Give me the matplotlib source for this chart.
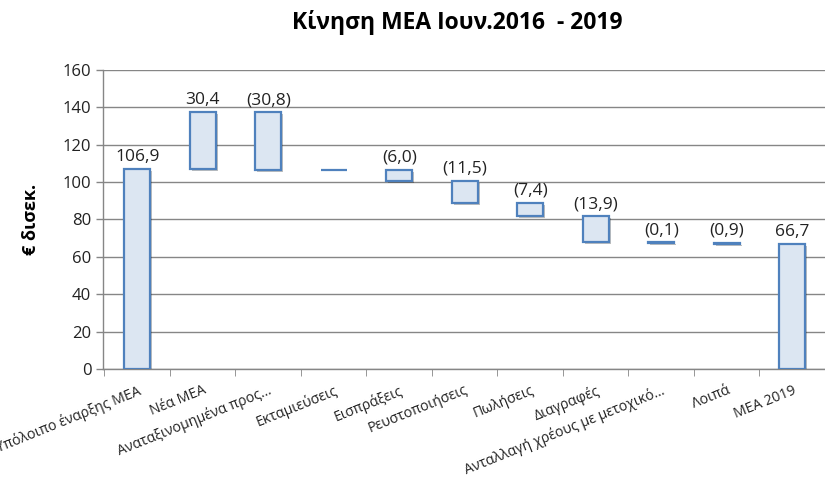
import matplotlib
matplotlib.use("Agg")
import matplotlib.pyplot as plt
import matplotlib.patheffects as pe
import numpy as np

plt.rcParams['font.family'] = ['Open Sans', 'Noto Sans', 'DejaVu Sans']

title = "Κίνηση ΜΕΑ Ιουν.2016  - 2019"
ylabel = "€ δισεκ."
categories = ["Υπόλοιπο έναρξης ΜΕΑ", "Νέα ΜΕΑ", "Αναταξινομημένα προς…",
              "Εκταμιεύσεις", "Εισπράξεις", "Ρευστοποιήσεις", "Πωλήσεις",
              "Διαγραφές", "Ανταλλαγή χρέους με μετοχικό…", "Λοιπά", "ΜΕΑ 2019"]
# change per step (first and last are totals)
changes = [106.9, 30.4, -30.8, 0.0, -6.0, -11.5, -7.4, -13.9, -0.1, -0.9, 66.7]
is_total = [True, False, False, False, False, False, False, False, False, False, True]
labels = ["106,9", "30,4", "(30,8)", "", "(6,0)", "(11,5)", "(7,4)",
          "(13,9)", "(0,1)", "(0,9)", "66,7"]
yticks = [0, 20, 40, 60, 80, 100, 120, 140, 160]

fig = plt.figure(figsize=(8.25, 4.88), dpi=100)
ax = fig.add_axes([0.125, 0.244, 0.875, 0.613])

bottoms, heights = [], []
running = 0.0
for v, tot in zip(changes, is_total):
    if tot:
        bottoms.append(0.0)
        heights.append(v)
        running = v
    else:
        new = running + v
        bottoms.append(min(running, new))
        heights.append(abs(v))
        running = new

x = np.arange(len(categories))
bars = ax.bar(x, heights, bottom=bottoms, width=0.4, color='#dce6f2',
              edgecolor='#4f81bd', linewidth=1.6, zorder=3)
for b in bars:
    b.set_path_effects([pe.SimplePatchShadow(offset=(1.5, -1.5), shadow_rgbFace='#000000', alpha=0.25),
                        pe.Normal()])

for xi, b0, h, lab in zip(x, bottoms, heights, labels):
    if lab:
        ax.annotate(lab, (xi, b0 + h), xytext=(0, 3), textcoords='offset points',
                    ha='center', va='bottom', fontsize=12.5, color='#222222', zorder=4)

ax.set_xlim(-0.52, len(categories) - 0.5)
ax.set_ylim(0, 160)
ax.set_yticks(yticks)
ax.set_yticklabels([str(t) for t in yticks], fontsize=12, color='#222222')
ax.yaxis.grid(True, color='#868686', linewidth=1.0, zorder=0)
ax.set_axisbelow(True)

ax.set_xticks(x)
ax.set_xticklabels(categories, rotation=22, ha='right', rotation_mode='anchor',
                   fontsize=10.2, color='#222222')
ax.tick_params(axis='x', length=0, pad=10)
ax.set_xticks(np.arange(len(categories) + 1) - 0.5, minor=True)
ax.tick_params(axis='x', which='minor', length=5, color='#868686')
ax.tick_params(axis='y', length=5, color='#868686', width=1.0)

for s in ['top', 'right']:
    ax.spines[s].set_visible(False)
for s in ['left', 'bottom']:
    ax.spines[s].set_color('#868686')
    ax.spines[s].set_linewidth(1.0)

ax.set_ylabel(ylabel, fontsize=13, fontweight='bold', labelpad=16)
fig.text(0.554, 0.953, title, ha='center', va='center', fontsize=16.5, fontweight='bold')

fig.savefig("out.png", dpi=100)
